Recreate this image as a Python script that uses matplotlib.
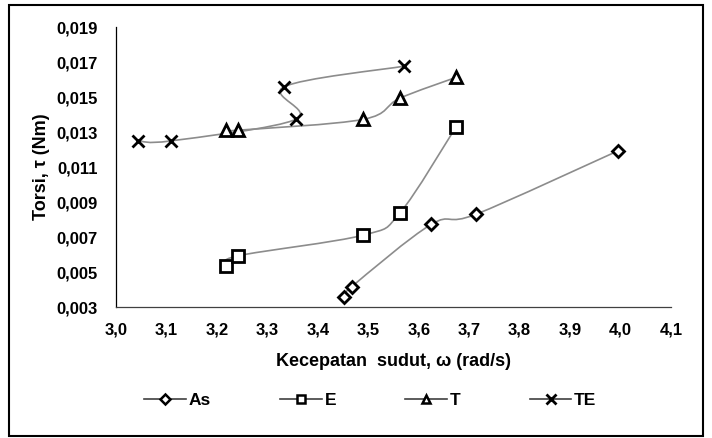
import matplotlib
matplotlib.use("Agg")
import matplotlib.pyplot as plt
from matplotlib.path import Path
from matplotlib.patches import PathPatch, Rectangle
from matplotlib.lines import Line2D
import numpy as np

plt.rcParams['font.family'] = ['Liberation Sans', 'DejaVu Sans']

# Data
as_x = [3.452, 3.467, 3.625, 3.714, 3.995]
as_y = [0.00355, 0.00416, 0.00773, 0.00831, 0.01193]
e_x = [3.217, 3.242, 3.490, 3.563, 3.674]
e_y = [0.00536, 0.00593, 0.00711, 0.00839, 0.01330]
t_x = [3.217, 3.242, 3.490, 3.562, 3.674]
t_y = [0.01311, 0.01311, 0.01373, 0.01493, 0.01613]
te_x = [3.044, 3.109, 3.357, 3.333, 3.571]
te_y = [0.01250, 0.01250, 0.01374, 0.01559, 0.01677]
labels = ['As', 'E', 'T', 'TE']
markers = ['D', 's', '^', 'x']
msizes = [6, 8, 8, 9]
xticks = [3.0, 3.1, 3.2, 3.3, 3.4, 3.5, 3.6, 3.7, 3.8, 3.9, 4.0, 4.1]
yticks = [0.003, 0.005, 0.007, 0.009, 0.011, 0.013, 0.015, 0.017, 0.019]

fig = plt.figure(figsize=(7.12, 4.38), dpi=100)
ax = fig.add_axes([0.163, 0.299, 0.7794, 0.639])
ax.set_xlim(3.0, 4.1)
ax.set_ylim(0.003, 0.019)

def smooth_path(xs, ys, tension=1/6):
    # Excel-like smoothed line drawn as cubic Bezier segments through points
    pts = np.column_stack([xs, ys])
    verts = [tuple(pts[0])]
    codes = [Path.MOVETO]
    n = len(pts)
    for i in range(n - 1):
        p0 = pts[i - 1] if i > 0 else pts[i]
        p1 = pts[i]
        p2 = pts[i + 1]
        p3 = pts[i + 2] if i + 2 < n else pts[i + 1]
        c1 = p1 + (p2 - p0) * tension
        c2 = p2 - (p3 - p1) * tension
        verts += [tuple(c1), tuple(c2), tuple(p2)]
        codes += [Path.CURVE4, Path.CURVE4, Path.CURVE4]
    return Path(verts, codes)

series = [(as_x, as_y), (e_x, e_y), (t_x, t_y), (te_x, te_y)]
for (xs, ys), m, ms, lab in zip(series, markers, msizes, labels):
    patch = PathPatch(smooth_path(xs, ys), facecolor='none', edgecolor='#8c8c8c',
                      lw=1.2, zorder=2)
    ax.add_patch(patch)
    if m == 'x':
        ax.plot(xs, ys, linestyle='none', marker=m, ms=ms, mew=2.0,
                color='black', zorder=3)
    else:
        ax.plot(xs, ys, linestyle='none', marker=m, ms=ms, mew=2.0,
                mfc='white', mec='black', zorder=3)

ax.set_xticks(xticks)
ax.set_xticklabels([f"{v:.1f}".replace('.', ',') for v in xticks])
ax.set_yticks(yticks)
ax.set_yticklabels([f"{v:.3f}".replace('.', ',') for v in yticks])
ax.tick_params(axis='y', length=0, labelsize=12, pad=13)
ax.tick_params(axis='x', length=0, labelsize=12, pad=11)
for lbl in ax.get_xticklabels() + ax.get_yticklabels():
    lbl.set_fontweight('bold')
ax.spines['top'].set_visible(False)
ax.spines['right'].set_visible(False)
ax.spines['left'].set_color('black')
ax.spines['bottom'].set_color('#404040')
ax.spines['left'].set_linewidth(0.9)
ax.spines['bottom'].set_linewidth(0.9)

ax.set_xlabel('Kecepatan  sudut, ω (rad/s)', fontsize=13, fontweight='bold', labelpad=11.5)
ax.set_ylabel('Torsi, τ (Nm)', fontsize=13, fontweight='bold', labelpad=5)

handles = []
for m, lab in zip(markers, labels):
    if m == 'x':
        h = Line2D([], [], color='#404040', lw=1.2, marker=m, ms=7, mew=2,
                   mec='black')
    else:
        h = Line2D([], [], color='#404040', lw=1.2, marker=m, ms=5 if m == 'D' else 6,
                   mew=1.8, mfc='white', mec='black')
    handles.append(h)
leg = fig.legend(handles, labels, loc='center', bbox_to_anchor=(0.52, 0.085),
                 ncol=4, frameon=False, handlelength=2.4, handletextpad=0.15,
                 columnspacing=4.0, prop={'weight': 'bold', 'size': 12.5})

fig.add_artist(Rectangle((0.0126, 0.0046), 0.975, 0.984, transform=fig.transFigure,
                         fill=False, edgecolor='black', lw=1.5))

fig.savefig('out.png', dpi=100)
